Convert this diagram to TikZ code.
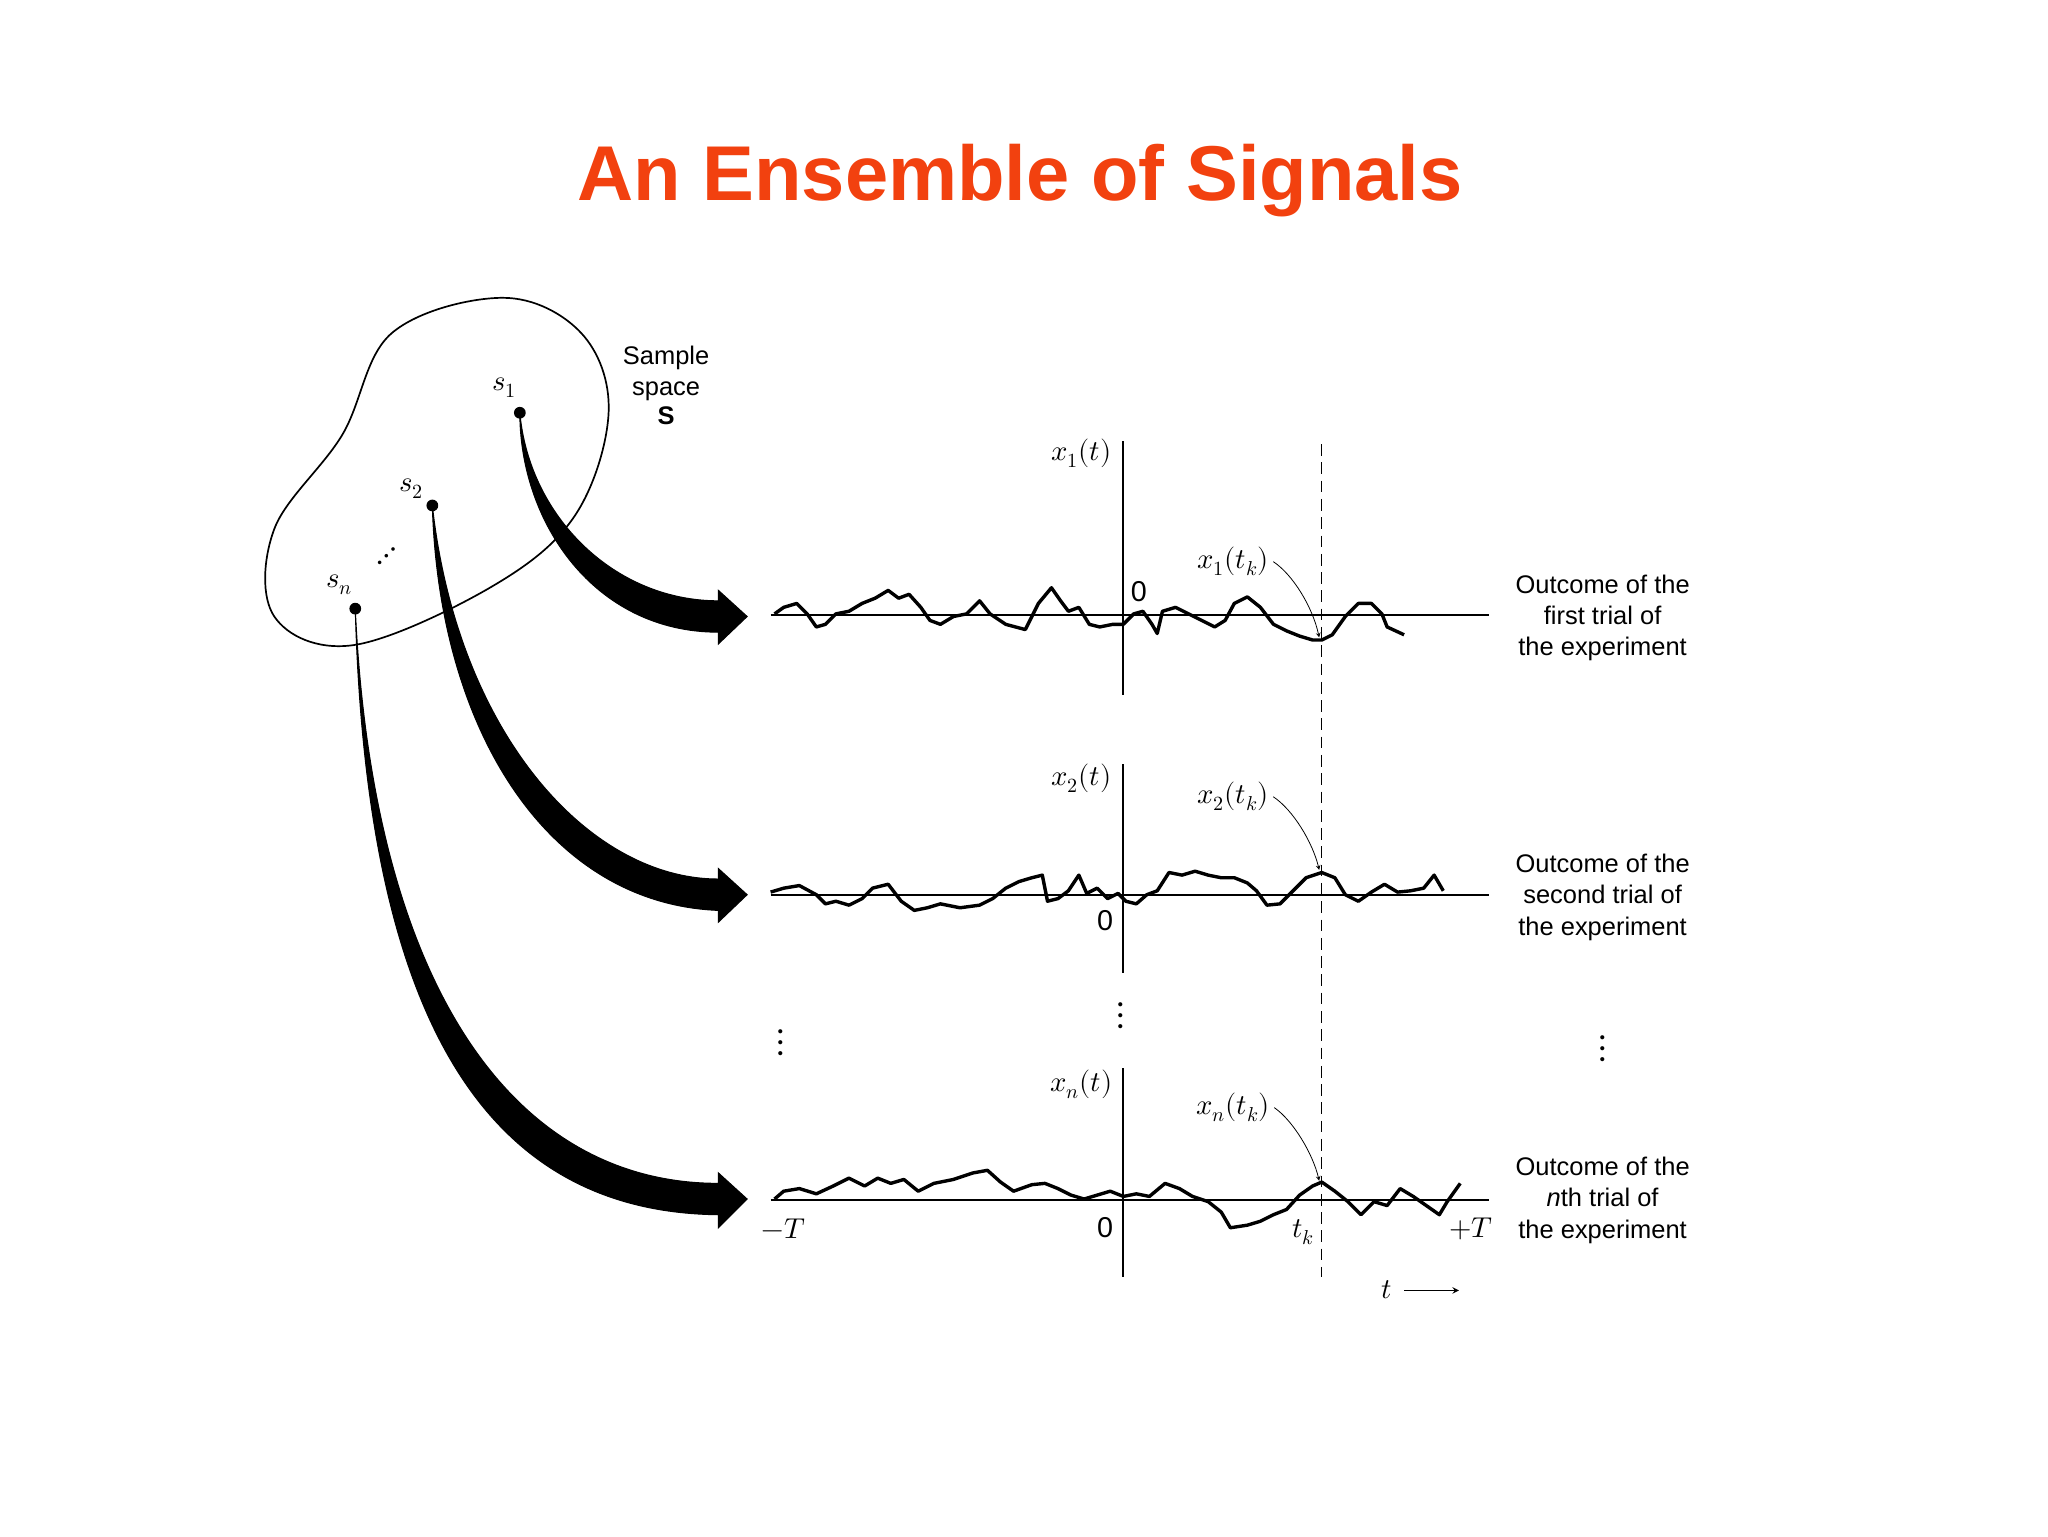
\documentclass[tikz,border=0pt]{standalone}
\usepackage{fontspec}
\setmainfont{Liberation Sans}
\usepackage{unicode-math}
\setmathfont{Latin Modern Math}
\definecolor{ttl}{HTML}{F2410F}
\begin{document}
\begin{tikzpicture}[x=1pt,y=-1pt,
  sig/.style={line width=2.6pt,line join=round},
  axis/.style={line width=1.3pt},
  lbl/.style={font=\fontsize{22}{22}\selectfont},
  txt/.style={font=\fontsize{19.5}{24}\selectfont,align=center},
  vd/.style={font=\fontsize{30}{30}\selectfont},
  bigarr/.style={fill=black,draw=black,line width=0.8pt}]
\useasboundingbox[fill=white] (0,0) rectangle (1568,1176);
\node[font=\fontsize{59.5}{59.5}\selectfont\bfseries,text=ttl] (title) at (781,138) {An Ensemble of Signals};
% blob
\draw[line width=1.3pt] plot[smooth cycle,tension=0.6] coordinates {(300,255)(385,228)(445,255)(466,315)(440,395)(375,450)(270,494)(210,472)(210,405)(262,333)};
\node[txt] (sp) at (510,295) {Sample\\space\\[-2pt]\textbf{S}};
% points
\fill (398,316) circle (4.5) coordinate (p1);
\fill (331,387) circle (4.5) coordinate (p2);
\fill (272,466) circle (4.5) coordinate (pn);
\node[lbl] (s1) at (386,297) {$s_1$};
\node[lbl] (s2) at (315,374) {$s_2$};
\node[lbl] (sn) at (260,448) {$s_n$};
\node[font=\fontsize{26}{26}\selectfont,rotate=45] (dd) at (298,428) {$\cdots$};
% big arrows
\draw[bigarr] (p1) .. controls (405,395) and (470,460) .. (550,460) -- (550,452) -- (572,472) -- (550,493) -- (550,484) .. controls (455,484) and (398,400) .. (p1);
\draw[bigarr] (p2) .. controls (350,560) and (450,673) .. (550,673) -- (550,665) -- (572,685) -- (550,706) -- (550,697) .. controls (420,692) and (336,560) .. (p2);
\draw[bigarr] (pn) .. controls (285,750) and (390,906) .. (550,906) -- (550,898) -- (572,918) -- (550,940) -- (550,930) .. controls (360,928) and (280,760) .. (pn);
% axes
\draw[axis] (590,471) -- (1140,471); \draw[axis] (860,338) -- (860,532);
\draw[axis] (590,685) -- (1140,685); \draw[axis] (860,585) -- (860,745);
\draw[axis] (590,919) -- (1140,919); \draw[axis] (860,818) -- (860,978);
\draw[line width=1pt,dash pattern=on 9pt off 5pt] (1012,340) -- (1012,978);
% signals
\draw[sig] plot coordinates {(593,470)(600,465)(610,462)(618,470)(625,480)(632,478)(640,470)(650,468)(660,462)(670,458)(680,452)(688,458)(696,455)(705,465)(712,475)(720,478)(730,472)(740,470)(750,460)(758,470)(770,478)(785,482)(795,462)(805,450)(812,460)(818,468)(826,465)(834,478)(842,480)(852,478)(860,478)(868,470)(875,468)(882,478)(886,485)(890,468)(900,465)(910,470)(920,475)(930,480)(938,475)(945,462)(955,457)(965,465)(975,478)(985,483)(995,487)(1005,490)(1012,490)(1020,486)(1030,472)(1040,462)(1050,462)(1058,470)(1062,480)(1075,486)};
\draw[sig] plot coordinates {(590,683)(600,680)(612,678)(625,685)(632,692)(640,690)(650,693)(660,688)(668,680)(680,677)(690,690)(700,697)(710,695)(720,692)(735,695)(750,693)(760,688)(770,680)(780,675)(790,672)(798,670)(802,690)(810,688)(818,682)(826,670)(832,684)(840,680)(848,688)(856,684)(862,690)(870,692)(878,685)(886,682)(895,668)(905,670)(915,667)(925,670)(935,672)(945,672)(955,676)(962,682)(970,693)(980,692)(990,682)(1000,672)(1012,668)(1022,672)(1030,685)(1040,690)(1050,683)(1060,677)(1070,683)(1080,682)(1090,680)(1098,670)(1105,682)};
\draw[sig] plot coordinates {(593,918)(600,912)(612,910)(625,914)(638,908)(650,902)(662,908)(672,902)(682,906)(692,903)(703,912)(715,906)(730,903)(745,898)(756,896)(766,905)(776,912)(790,907)(800,906)(810,910)(820,915)(830,918)(840,915)(850,912)(860,916)(870,914)(880,916)(892,906)(903,910)(913,916)(925,920)(935,928)(942,940)(955,938)(965,935)(975,930)(985,926)(995,915)(1005,908)(1012,905)(1022,912)(1032,920)(1042,930)(1052,920)(1062,923)(1072,910)(1082,916)(1092,923)(1102,930)(1108,920)(1118,906)};
% labels
\node[lbl] (x1) at (828,347) {$x_1(t)$};
\node[lbl] (z1) at (872,453) {0};
\node[lbl] (x1k) at (944,430) {$x_1(t_k)$};
\coordinate (k1) at (1010,488);
\draw[->,line width=0.6pt,>=stealth] (x1k.east) .. controls (990,440) and (1005,465) .. (k1);
\node[lbl] (x2) at (828,596) {$x_2(t)$};
\node[lbl] (z2) at (846,705) {0};
\node[lbl] (x2k) at (944,610) {$x_2(t_k)$};
\coordinate (k2) at (1010,666);
\draw[->,line width=0.6pt,>=stealth] (x2k.east) .. controls (990,620) and (1005,645) .. (k2);
\node[lbl] (xn) at (828,830) {$x_n(t)$};
\node[lbl] (zn) at (846,940) {0};
\node[lbl] (xnk) at (944,848) {$x_n(t_k)$};
\coordinate (kn) at (1010,904);
\draw[->,line width=0.6pt,>=stealth] (xnk.east) .. controls (990,858) and (1005,883) .. (kn);
\node[lbl] (mT) at (600,941) {$-T$};
\node[lbl] (tk) at (998,943) {$t_k$};
\node[lbl] (pT) at (1126,941) {$+T$};
\node[lbl] (tt) at (1062,987) {$t$};
\coordinate (te) at (1117,988);
\draw[->,line width=1.2pt,>=stealth] (1075,988) -- (te);
% right text
\node[txt] (o1) at (1227,473) {Outcome of the\\first trial of\\the experiment};
\node[txt] (o2) at (1227,687) {Outcome of the\\second trial of\\the experiment};
\node[txt] (on) at (1227,919) {Outcome of the\\\textit{n}th trial of\\the experiment};
% vertical dots
\node[vd] (v1) at (598,798) {$\vdots$};
\node[vd] (v2) at (858,778) {$\vdots$};
\node[vd] (v3) at (1227,803) {$\vdots$};
\end{tikzpicture}
\end{document}
